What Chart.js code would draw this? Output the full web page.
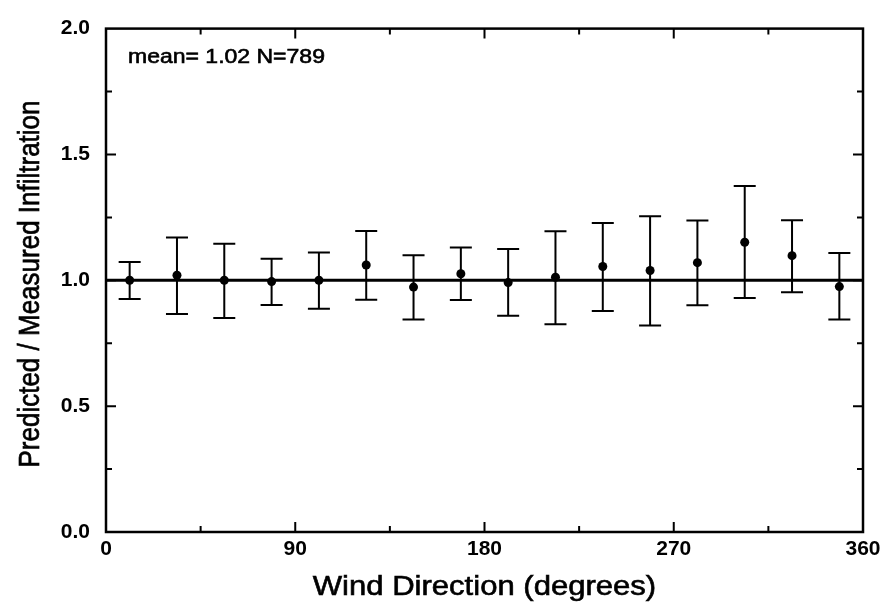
<!DOCTYPE html>
<html>
<head>
<meta charset="utf-8">
<style>
  html, body { margin: 0; padding: 0; background: #fff; }
  #wrap { width: 888px; height: 606px; }
</style>
<script src="https://cdn.jsdelivr.net/npm/chart.js@4.4.1/dist/chart.umd.min.js"></script>
</head>
<body>
<div id="wrap"><canvas id="c" width="888" height="606"></canvas></div>
<script>
// Wind direction sector centres (degrees)
const directions = [11.25, 33.75, 56.25, 78.75, 101.25, 123.75, 146.25, 168.75,
                    191.25, 213.75, 236.25, 258.75, 281.25, 303.75, 326.25, 348.75];
// Mean predicted / measured infiltration ratio per sector
const ratio = [1.00, 1.02, 1.00, 0.995, 1.00, 1.061, 0.973, 1.026,
               0.991, 1.012, 1.055, 1.039, 1.07, 1.151, 1.098, 0.975];
// Error bar ends per sector
const upper = [1.073, 1.17, 1.145, 1.086, 1.11, 1.196, 1.10, 1.13,
               1.124, 1.195, 1.228, 1.254, 1.238, 1.375, 1.239, 1.108];
const lower = [0.926, 0.866, 0.85, 0.902, 0.887, 0.923, 0.844, 0.922,
               0.859, 0.825, 0.878, 0.82, 0.901, 0.93, 0.953, 0.844];
// Axis ticks
const xTicks = [0, 90, 180, 270, 360];
const xMinorTicks = [45, 135, 225, 315];
const yTicks = [0, 0.5, 1.0, 1.5, 2.0];
const yMinorTicks = [0.25, 0.75, 1.25, 1.75];
// Perfect agreement reference
const unityLine = [1, 1];
const xRange = [0, 360];

const FONT = '"Liberation Sans", Arial, Helvetica, sans-serif';
const STRETCH = 1.15;

// Vertical error bars with caps
const errorBars = {
  id: 'errorBars',
  afterDatasetsDraw(chart) {
    const { ctx, scales: { x, y } } = chart;
    ctx.save();
    ctx.strokeStyle = '#000';
    ctx.lineWidth = 2;
    const half = 11;
    directions.forEach((d, i) => {
      const px = x.getPixelForValue(d);
      const top = y.getPixelForValue(upper[i]);
      const bot = y.getPixelForValue(lower[i]);
      ctx.beginPath();
      ctx.moveTo(px, top); ctx.lineTo(px, bot);
      ctx.moveTo(px - half, top); ctx.lineTo(px + half, top);
      ctx.moveTo(px - half, bot); ctx.lineTo(px + half, bot);
      ctx.stroke();
    });
    ctx.restore();
  }
};

// Boxed frame with inward ticks on all four sides
const frame = {
  id: 'frame',
  afterDraw(chart) {
    const { ctx, chartArea: a, scales: { x, y } } = chart;
    ctx.save();
    ctx.strokeStyle = '#000';
    ctx.lineWidth = 2.5;
    ctx.strokeRect(a.left, a.top, a.right - a.left, a.bottom - a.top);
    ctx.lineWidth = 2;
    const tick = (vals, len) => {
      ctx.beginPath();
      vals.forEach(v => {
        const px = x.getPixelForValue(v);
        ctx.moveTo(px, a.bottom); ctx.lineTo(px, a.bottom - len);
        ctx.moveTo(px, a.top); ctx.lineTo(px, a.top + len);
      });
      ctx.stroke();
    };
    const ytick = (vals, len) => {
      ctx.beginPath();
      vals.forEach(v => {
        const py = y.getPixelForValue(v);
        ctx.moveTo(a.left, py); ctx.lineTo(a.left + len, py);
        ctx.moveTo(a.right, py); ctx.lineTo(a.right - len, py);
      });
      ctx.stroke();
    };
    tick(xTicks.slice(1, -1), 10);
    tick(xMinorTicks, 6);
    ytick(yTicks.slice(1, -1), 10);
    ytick(yMinorTicks, 6);
    ctx.restore();
  }
};

// Axis titles and summary note
const labels = {
  id: 'labels',
  afterDraw(chart) {
    const { ctx, chartArea: a } = chart;
    ctx.save();
    ctx.fillStyle = '#000';
    ctx.strokeStyle = '#000';
    ctx.lineWidth = 0.6;

    // x-axis title
    ctx.save();
    ctx.translate((a.left + a.right) / 2, 588);
    ctx.scale(STRETCH, 1);
    ctx.font = '27px ' + FONT;
    ctx.textAlign = 'center';
    ctx.textBaseline = 'middle';
    ctx.fillText('Wind Direction (degrees)', 0, 0);
    ctx.strokeText('Wind Direction (degrees)', 0, 0);
    ctx.restore();

    // y-axis title
    ctx.save();
    ctx.translate(31, 284);
    ctx.rotate(-Math.PI / 2);
    ctx.scale(1, STRETCH);
    ctx.font = '26px ' + FONT;
    ctx.textAlign = 'center';
    ctx.textBaseline = 'middle';
    ctx.fillText('Predicted / Measured Infiltration', 0, 0);
    ctx.strokeText('Predicted / Measured Infiltration', 0, 0);
    ctx.restore();

    // summary note
    ctx.save();
    ctx.translate(128, 63);
    ctx.scale(STRETCH, 1);
    ctx.font = '20px ' + FONT;
    ctx.textAlign = 'left';
    ctx.textBaseline = 'alphabetic';
    ctx.fillText('mean= 1.02 N=789', 0, 0);
    ctx.strokeText('mean= 1.02 N=789', 0, 0);
    ctx.restore();

    ctx.restore();
  }
};

new Chart(document.getElementById('c'), {
  data: {
    datasets: [
      {
        type: 'line',
        data: xRange.map((v, i) => ({ x: v, y: unityLine[i] })),
        borderColor: '#000',
        borderWidth: 3,
        pointRadius: 0,
        fill: false
      },
      {
        type: 'scatter',
        data: directions.map((d, i) => ({ x: d, y: ratio[i] })),
        backgroundColor: '#000',
        borderColor: '#000',
        pointRadius: 4.5,
        borderWidth: 0
      }
    ]
  },
  options: {
    responsive: false,
    animation: false,
    layout: { padding: { top: 20, right: 25, left: 0, bottom: 0 } },
    plugins: { legend: { display: false }, tooltip: { enabled: false } },
    scales: {
      x: {
        type: 'linear',
        min: 0, max: 360,
        afterBuildTicks: s => { s.ticks = xTicks.map(v => ({ value: v })); },
        afterFit: s => { s.height = 74; },
        grid: { display: false, drawTicks: false },
        border: { display: false },
        ticks: { color: '#000', font: { family: FONT, size: 21, weight: 'bold' }, padding: 5, maxRotation: 0 }
      },
      y: {
        type: 'linear',
        min: 0, max: 2,
        afterBuildTicks: s => { s.ticks = yTicks.map(v => ({ value: v })); },
        afterFit: s => { s.width = 106; },
        grid: { display: false, drawTicks: false },
        border: { display: false },
        ticks: { color: '#000', font: { family: FONT, size: 21, weight: 'bold' }, padding: 16,
                 callback: v => v.toFixed(1) }
      }
    }
  },
  plugins: [errorBars, frame, labels]
});
</script>
</body>
</html>
